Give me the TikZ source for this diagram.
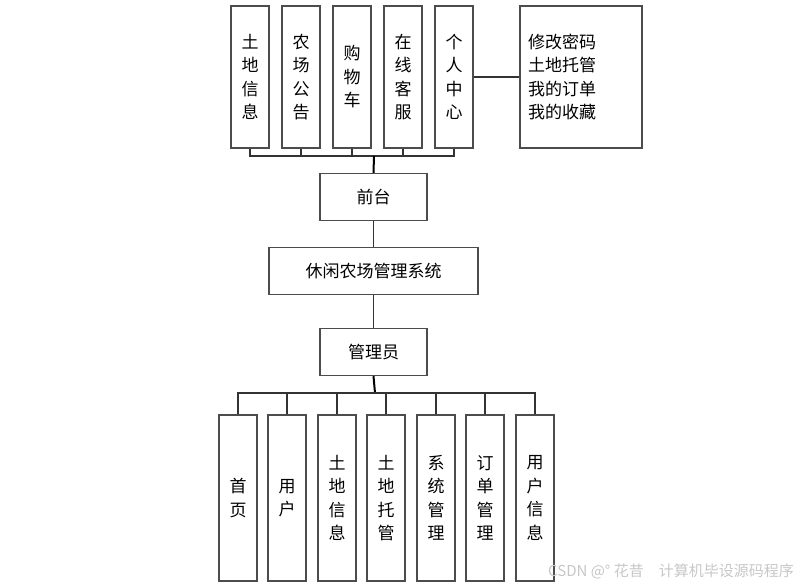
\documentclass[tikz,border=0pt]{standalone}
\usepackage{fontspec}
\setmainfont{Noto Sans CJK SC}
\usepackage{xcolor}
\usetikzlibrary{positioning}

\begin{document}
\begin{tikzpicture}[
       x=1pt, y=-1pt,
       tallbox/.style={
           draw=black!70,
           line width=1.2pt,
           minimum width=38pt,
           minimum height=142pt,
           align=center,
           font=\fontsize{17}{23.5}\selectfont,
           inner sep=0pt
       },
       midbox/.style={
           draw=black!70,
           line width=1.2pt,
           minimum height=47pt,
           font=\fontsize{17}{20}\selectfont,
           inner sep=0pt
       },
       link/.style={black!80, line width=1.1pt},
       stem/.style={black, line width=2pt}
   ]

   \useasboundingbox (0,0) rectangle (807,587);

   % Front end
   \node[tallbox] (t1) at (250,77) {土\\地\\信\\息};
   \node[tallbox] (t2) at (301,77) {农\\场\\公\\告};
   \node[tallbox] (t3) at (352,77) {购\\物\\车};
   \node[tallbox] (t4) at (403,77) {在\\线\\客\\服};
   \node[tallbox] (t5) at (454,77) {个\\人\\中\\心};
   \node[tallbox, text width=106pt, inner xsep=8pt, align=left] (my) at (581,77)
       {修改密码\\土地托管\\我的订单\\我的收藏};

   % Middle
   \node[midbox, minimum width=107pt] (qiantai) at (373.5,197) {前台};
   \node[midbox, minimum width=209pt] (sys) at (373.5,271) {休闲农场管理系统};
   \node[midbox, minimum width=107pt] (admin) at (373.5,352) {管理员};

   % Back end
   \node[tallbox, minimum height=166pt] (b1) at (238,498) {首\\页};
   \node[tallbox, minimum height=166pt] (b2) at (287,498) {用\\户};
   \node[tallbox, minimum height=166pt] (b3) at (337,498) {土\\地\\信\\息};
   \node[tallbox, minimum height=166pt] (b4) at (386,498) {土\\地\\托\\管};
   \node[tallbox, minimum height=166pt] (b5) at (436,498) {系\\统\\管\\理};
   \node[tallbox, minimum height=166pt] (b6) at (485,498) {订\\单\\管\\理};
   \node[tallbox, minimum height=166pt] (b7) at (535,498) {用\\户\\信\\息};

   % Connectors
   \coordinate (topbus) at (374,156);
   \coordinate (botbus) at (375,393);

   \foreach \n in {t1,t2,t3,t4,t5}
       \draw[link] (\n.south) |- (topbus);
   \draw[link] (t5.east) -- (my.west);
   \draw[stem] (topbus) -- (qiantai.north);

   \draw[link] (qiantai.south) -- (sys.north);
   \draw[link] (sys.south) -- (admin.north);

   \draw[stem] (admin.south) -- (botbus);
   \foreach \n in {b1,b2,b3,b4,b5,b6,b7}
       \draw[link] (\n.north) |- (botbus);

   % Watermark
   \node[text=black!22, font=\fontsize{15}{15}\selectfont] (mark) at (671,571)
       {CSDN @° 花昔\quad 计算机毕设源码程序};

\end{tikzpicture}
\end{document}
